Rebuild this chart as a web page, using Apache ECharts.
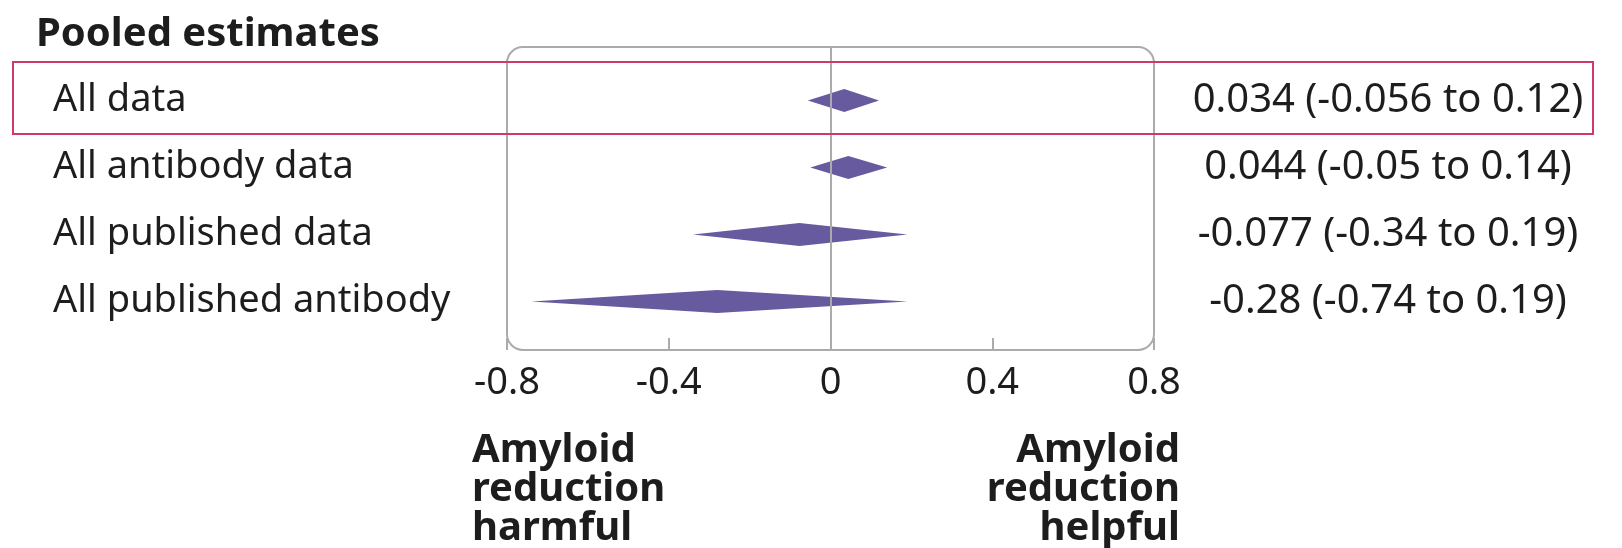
<!DOCTYPE html>
<html>
<head>
<meta charset="utf-8">
<script src="https://cdn.jsdelivr.net/npm/echarts@6/dist/echarts.min.js"></script>
<style>
  html, body { margin: 0; padding: 0; background: #fff; }
  #chart { width: 1622px; height: 548px; }
</style>
</head>
<body>
<div id="chart"></div>
<script>
// pooled estimates (effect with 95% CI)
const rowNames = ['All data', 'All antibody data', 'All published data', 'All published antibody data'];
const estimates = [0.034, 0.044, -0.077, -0.28];
const lowers = [-0.056, -0.05, -0.34, -0.74];
const uppers = [0.12, 0.14, 0.19, 0.19];
const xTicks = [-0.8, -0.4, 0, 0.4, 0.8];

const FONT = '"Noto Sans", sans-serif';
const INK = '#1d1d1d';
const GREY = '#ababab';
const PURPLE = '#675a9f';
const PINK = '#cf3a67';

// layout
const BOX = { left: 507, right: 1154, top: 47, bottom: 350 };
const ROWS = { top: 67, bottom: 335 };
const W = 1622, H = 548;

const ciLabels = estimates.map((e, i) => `${e} (${lowers[i]} to ${uppers[i]})`);
const diamonds = estimates.map((e, i) => [i, e, lowers[i], uppers[i]]);

const chart = echarts.init(document.getElementById('chart'), null, { renderer: 'canvas' });

chart.setOption({
  animation: false,
  backgroundColor: '#fff',
  textStyle: { fontFamily: FONT },
  grid: [
    // frame / x scale
    { left: BOX.left, right: W - BOX.right, top: BOX.top, bottom: H - BOX.bottom },
    // rows
    { left: BOX.left, right: W - BOX.right, top: ROWS.top, bottom: H - ROWS.bottom }
  ],
  xAxis: [
    {
      gridIndex: 0,
      type: 'value',
      min: xTicks[0],
      max: xTicks[xTicks.length - 1],
      interval: 0.4,
      axisLine: { show: false },
      axisTick: {
        show: true, inside: true, length: 12,
        lineStyle: { color: GREY, width: 2 },
        interval: (idx, v) => Math.abs(v) > 0.01 && Math.abs(v) < 0.79
      },
      splitLine: { show: false },
      axisLabel: {
        fontSize: 38, color: INK, margin: 14, fontFamily: FONT,
        formatter: v => String(Math.round(v * 10) / 10)
      }
    },
    {
      gridIndex: 1,
      type: 'value',
      min: xTicks[0],
      max: xTicks[xTicks.length - 1],
      show: false
    }
  ],
  yAxis: [
    { gridIndex: 0, type: 'value', min: 0, max: 1, show: false },
    {
      gridIndex: 1,
      type: 'category',
      inverse: true,
      data: rowNames,
      axisLine: { show: false },
      axisTick: { show: false },
      axisLabel: {
        align: 'left', margin: BOX.left - 53, fontSize: 38, color: INK, fontFamily: FONT,
        width: 452 - 53, overflow: 'truncate', ellipsis: '', padding: [6, 0, 0, 0]
      }
    },
    {
      gridIndex: 1,
      type: 'category',
      inverse: true,
      position: 'right',
      data: ciLabels,
      axisLine: { show: false },
      axisTick: { show: false },
      axisLabel: {
        align: 'center', margin: 1388 - BOX.right, fontSize: 40, color: INK, fontFamily: FONT,
        padding: [5, 0, 0, 0]
      }
    }
  ],
  series: [
    {
      // zero line across the whole frame
      type: 'line',
      xAxisIndex: 0, yAxisIndex: 0,
      data: [],
      markLine: {
        silent: true, symbol: 'none', label: { show: false },
        lineStyle: { color: GREY, width: 2, type: 'solid' },
        data: [{ xAxis: 0 }]
      }
    },
    {
      type: 'custom',
      xAxisIndex: 1, yAxisIndex: 1,
      data: diamonds,
      encode: { x: [1, 2, 3], y: 0 },
      renderItem: (params, api) => {
        const row = api.value(0);
        const c = api.coord([api.value(1), row]);
        const l = api.coord([api.value(2), row]);
        const r = api.coord([api.value(3), row]);
        const h = 11.5;
        return {
          type: 'polygon',
          shape: { points: [[l[0], c[1]], [c[0], c[1] - h], [r[0], c[1]], [c[0], c[1] + h]] },
          style: { fill: PURPLE }
        };
      }
    }
  ],
  graphic: [
    {
      type: 'text', x: 36, y: 15,
      style: { text: 'Pooled estimates', font: `bold 40px ${FONT}`, fill: INK }
    },
    {
      type: 'rect', z: -1, silent: true,
      shape: { x: BOX.left, y: BOX.top, width: BOX.right - BOX.left, height: BOX.bottom - BOX.top, r: 16 },
      style: { fill: 'none', stroke: GREY, lineWidth: 2 }
    },
    {
      type: 'rect', z: 10, silent: true,
      shape: { x: 13, y: 62, width: 1580, height: 72 },
      style: { fill: 'none', stroke: PINK, lineWidth: 2 }
    },
    {
      type: 'text', x: 472, y: 431,
      style: {
        text: 'Amyloid\nreduction\nharmful', font: `bold 40px ${FONT}`, fill: INK,
        lineHeight: 39, align: 'left', verticalAlign: 'top'
      }
    },
    {
      type: 'text', x: 1180, y: 431,
      style: {
        text: 'Amyloid\nreduction\nhelpful', font: `bold 40px ${FONT}`, fill: INK,
        lineHeight: 39, align: 'right', verticalAlign: 'top'
      }
    }
  ]
});
</script>
</body>
</html>
